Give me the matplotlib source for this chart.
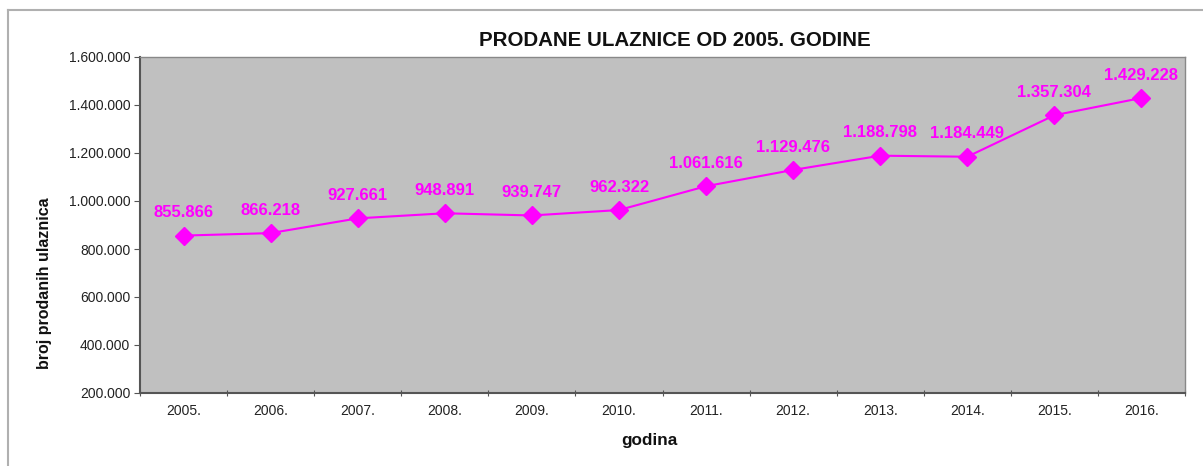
import matplotlib
matplotlib.use('Agg')
import matplotlib.pyplot as plt
from matplotlib.lines import Line2D
from matplotlib.ticker import FuncFormatter

plt.rcParams['font.family'] = ['Liberation Sans', 'DejaVu Sans']

# Podaci
godine = ['2005.', '2006.', '2007.', '2008.', '2009.', '2010.',
          '2011.', '2012.', '2013.', '2014.', '2015.', '2016.']
ulaznice = [855866, 866218, 927661, 948891, 939747, 962322,
            1061616, 1129476, 1188798, 1184449, 1357304, 1429228]

W, H = 1203, 466
fig = plt.figure(figsize=(W / 100, H / 100), dpi=100)
ax = fig.add_axes([140 / W, 1 - 393 / H, (1185 - 140) / W, (393 - 57) / H])
ax.set_facecolor('#c0c0c0')

x = list(range(len(godine)))
ax.plot(x, ulaznice, color='#ff00ff', linewidth=1.5, marker='D', markersize=9.5,
        markeredgecolor='#ff00ff', markerfacecolor='#ff00ff')

def tocke(v, pos=None):
    return f'{int(v):,}'.replace(',', '.')

# Oznake vrijednosti iznad tocaka
for xi, yi in zip(x, ulaznice):
    ax.annotate(tocke(yi), (xi, yi), xytext=(0, 11), textcoords='offset points',
                ha='center', va='bottom', color='#ff00ff', fontsize=12,
                fontweight='bold')

ax.set_ylim(200000, 1600000)
ax.set_yticks(range(200000, 1600001, 200000))
ax.yaxis.set_major_formatter(FuncFormatter(tocke))
ax.set_xlim(-0.5, len(godine) - 0.5)
ax.set_xticks([i - 0.5 for i in range(len(godine) + 1)])
ax.set_xticklabels([])
ax.set_xticks(x, minor=True)
ax.set_xticklabels(godine, minor=True)
ax.tick_params(axis='x', which='minor', length=0, pad=8, labelsize=10, colors='#222222')
ax.tick_params(axis='x', which='major', length=5, direction='inout', color='#555555')
ax.tick_params(axis='y', length=4, labelsize=10, colors='#222222', color='#555555', pad=3)

for s in ['left', 'bottom']:
    ax.spines[s].set_color('#555555')
    ax.spines[s].set_linewidth(1.5)
for s in ['top', 'right']:
    ax.spines[s].set_color('#888888')
    ax.spines[s].set_linewidth(1.0)

fig.text(675 / W, 1 - 41 / H, 'PRODANE ULAZNICE OD 2005. GODINE', ha='center', va='center',
         fontsize=14.8, fontweight='bold', color='#111111')
fig.text(45 / W, 1 - 283 / H, 'broj prodanih ulaznica', rotation=90, ha='center', va='center',
         fontsize=11.5, fontweight='bold', color='#111111')
fig.text(649 / W, 1 - 440 / H, 'godina', ha='center', va='center',
         fontsize=12.3, fontweight='bold', color='#111111')

# Okvir grafikona
fx, fy = 8 / W, 1 - 10 / H
fig.add_artist(Line2D([fx, fx], [0, fy], color='#b0b0b0', linewidth=1.5))
fig.add_artist(Line2D([fx, 1], [fy, fy], color='#b0b0b0', linewidth=1.5))

fig.savefig('out.png', dpi=100)
